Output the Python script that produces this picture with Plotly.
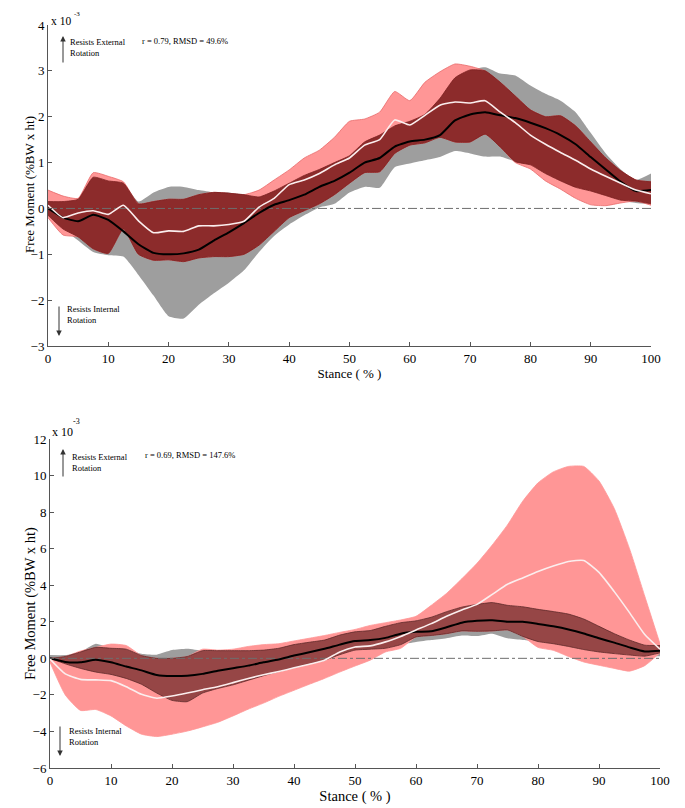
import numpy as np
import plotly.graph_objects as go

W, H = 685, 808
OFF = 8  # page margin of the browser body

stance = [i * 2.5 for i in range(41)]

# ---------------- Top panel (values x 10^-3) ----------------
top_black_mean = [0.0, -0.2, -0.28, -0.14, -0.25, -0.5, -0.78, -0.97, -1.0, -0.98, -0.9,
                  -0.7, -0.52, -0.32, -0.1, 0.08, 0.18, 0.3, 0.47, 0.6, 0.78,
                  1.0, 1.1, 1.35, 1.46, 1.5, 1.6, 1.92, 2.05, 2.1, 2.03,
                  1.97, 1.87, 1.75, 1.6, 1.4, 1.12, 0.85, 0.58, 0.38, 0.4]
top_gray_hi = [0.15, 0.15, 0.2, 0.68, 0.6, 0.55, 0.15, 0.35, 0.47, 0.47, 0.4,
               0.35, 0.35, 0.3, 0.25, 0.38, 0.55, 0.72, 0.85, 1.0, 1.15,
               1.45, 1.6, 1.8, 1.9, 2.05, 2.4, 2.85, 3.02, 3.08, 2.94,
               2.9, 2.68, 2.5, 2.35, 2.1, 1.65, 1.2, 0.85, 0.62, 0.76]
top_gray_lo = [-0.15, -0.45, -0.7, -0.95, -1.02, -1.05, -1.45, -1.9, -2.35, -2.4, -2.1,
               -1.85, -1.62, -1.35, -0.95, -0.6, -0.35, -0.15, 0.02, 0.1, 0.35,
               0.47, 0.45, 0.9, 0.98, 1.05, 1.12, 1.25, 1.2, 1.13, 1.13,
               1.02, 0.95, 0.76, 0.6, 0.46, 0.38, 0.28, 0.18, 0.12, 0.1]
top_white_mean = [0.07, -0.2, -0.1, -0.05, -0.13, 0.07, -0.27, -0.53, -0.49, -0.5, -0.38,
                  -0.38, -0.35, -0.28, 0.03, 0.22, 0.52, 0.62, 0.76, 0.95, 1.1,
                  1.38, 1.5, 1.93, 1.82, 2.03, 2.25, 2.32, 2.3, 2.35, 2.1,
                  1.87, 1.6, 1.4, 1.22, 1.05, 0.86, 0.7, 0.55, 0.4, 0.32]
top_red_hi = [0.4, 0.27, 0.22, 0.78, 0.7, 0.58, 0.1, 0.15, 0.2, 0.2, 0.3,
              0.35, 0.33, 0.3, 0.4, 0.62, 0.84, 1.1, 1.27, 1.55, 1.9,
              1.95, 2.1, 2.55, 2.35, 2.75, 2.98, 3.15, 3.1, 3.0, 2.75,
              2.45, 2.15, 2.0, 2.02, 1.8, 1.45, 1.1, 0.82, 0.62, 0.58]
top_red_lo = [-0.2, -0.58, -0.62, -0.88, -0.98, -0.45, -1.0, -1.13, -1.12, -1.16, -1.08,
              -1.05, -1.05, -1.0, -0.8, -0.5, -0.2, -0.05, 0.1, 0.3, 0.55,
              0.78, 0.8, 1.2, 1.38, 1.43, 1.55, 1.45, 1.45, 1.62, 1.34,
              1.0, 0.86, 0.6, 0.42, 0.22, 0.08, 0.06, 0.12, 0.16, 0.07]

# ---------------- Bottom panel (values x 10^-3) ----------------
bot_black_mean = [0.0, -0.2, -0.22, -0.08, -0.22, -0.45, -0.66, -0.91, -0.97, -0.95, -0.85,
                  -0.68, -0.54, -0.4, -0.22, -0.06, 0.15, 0.33, 0.52, 0.75, 0.95,
                  1.0, 1.12, 1.35, 1.45, 1.48, 1.7, 1.95, 2.05, 2.08, 2.0,
                  2.0, 1.88, 1.75, 1.58, 1.36, 1.1, 0.86, 0.6, 0.38, 0.42]
bot_gray_hi = [0.18, 0.18, 0.35, 0.8, 0.55, 0.5, 0.25, 0.2, 0.45, 0.52, 0.42,
               0.42, 0.42, 0.42, 0.45, 0.55, 0.75, 0.88, 1.0, 1.27, 1.45,
               1.52, 1.75, 1.95, 2.05, 2.25, 2.55, 2.8, 2.95, 3.05, 2.9,
               2.82, 2.68, 2.56, 2.42, 2.15, 1.75, 1.35, 1.0, 0.72, 0.7]
bot_gray_lo = [0.0, -0.3, -0.55, -0.75, -0.88, -1.1, -1.42, -1.9, -2.3, -2.37, -1.9,
               -1.65, -1.45, -1.2, -0.95, -0.72, -0.5, -0.3, -0.1, 0.2, 0.45,
               0.5, 0.55, 0.75, 0.9, 1.0, 1.1, 1.25, 1.22, 1.35, 1.1,
               1.0, 0.92, 0.8, 0.65, 0.48, 0.35, 0.26, 0.18, 0.12, 0.12]
bot_white_mean = [-0.04, -0.85, -1.15, -1.18, -1.22, -1.55, -1.97, -2.18, -2.06, -1.9, -1.72,
                  -1.55, -1.33, -1.1, -0.9, -0.72, -0.52, -0.32, -0.1, 0.35, 0.62,
                  0.68, 0.9, 1.2, 1.55, 1.9, 2.3, 2.65, 2.95, 3.5, 4.05,
                  4.4, 4.75, 5.05, 5.3, 5.35, 4.7, 3.65, 2.5, 1.3, 0.5]
bot_red_hi = [0.0, 0.1, 0.4, 0.6, 0.78, 0.7, 0.15, 0.0, 0.0, 0.1, 0.5,
              0.45, 0.5, 0.65, 0.75, 0.8, 0.95, 1.1, 1.25, 1.42, 1.58,
              1.8, 1.95, 2.1, 2.3, 2.9, 3.55, 4.35, 5.2, 6.2, 7.3,
              8.6, 9.6, 10.2, 10.5, 10.5, 9.7, 8.2, 6.0, 3.4, 0.8]
bot_red_lo = [-0.22, -2.0, -2.85, -2.8, -3.15, -3.7, -4.15, -4.28, -4.15, -3.98, -3.75,
              -3.5, -3.15, -2.78, -2.45, -2.08, -1.75, -1.42, -1.1, -0.75, -0.42,
              -0.1, 0.35, 0.55, 1.17, 1.25, 1.35, 1.5, 1.48, 1.5, 1.55,
              1.2, 0.6, 0.44, 0.1, -0.2, -0.38, -0.55, -0.7, -0.4, 0.3]

top_label = "r = 0.79, RMSD = 49.6%"
bot_label = "r = 0.69, RMSD = 147.6%"
y_title = "Free Moment (%BW x ht)"
x_title = "Stance ( % )"
x_ticks = list(range(0, 101, 10))
top_y_ticks = list(range(-3, 5))
bot_y_ticks = list(range(-6, 13, 2))

GRAY = "#9e9e9e"
LRED = "#ff9696"
FONT = "Liberation Serif"

fig = go.Figure()


def band(lo, hi, color, xa, ya, edge=None, ew=0.0):
    fig.add_trace(go.Scatter(x=stance, y=lo, mode="lines", line=dict(width=ew, color=edge or color, shape="spline", smoothing=0.5),
                             xaxis=xa, yaxis=ya, showlegend=False, hoverinfo="skip"))
    fig.add_trace(go.Scatter(x=stance, y=hi, mode="lines", fill="tonexty", fillcolor=color,
                             line=dict(width=ew, color=edge or color, shape="spline", smoothing=0.5),
                             xaxis=xa, yaxis=ya, showlegend=False, hoverinfo="skip"))


def panel(bm, glo, ghi, wm, rlo, rhi, xa, ya, ovcol, ovedge, redge):
    glo_a, ghi_a, rlo_a, rhi_a = map(np.array, (glo, ghi, rlo, rhi))
    ov_lo = np.maximum(glo_a, rlo_a)
    ov_hi = np.maximum(ov_lo, np.minimum(ghi_a, rhi_a))
    band(glo, ghi, GRAY, xa, ya)
    band(rlo, rhi, LRED, xa, ya, edge=redge, ew=0.8)
    band(list(ov_lo), list(ov_hi), ovcol, xa, ya, edge=ovedge, ew=0.8)
    fig.add_trace(go.Scatter(x=[0, 100], y=[0, 0], mode="lines",
                             line=dict(color="#6e6e6e", width=1, dash="dashdot"),
                             xaxis=xa, yaxis=ya, showlegend=False, hoverinfo="skip"))
    fig.add_trace(go.Scatter(x=stance, y=bm, mode="lines", line=dict(color="black", width=2, shape="spline", smoothing=0.5),
                             xaxis=xa, yaxis=ya, showlegend=False))
    fig.add_trace(go.Scatter(x=stance, y=wm, mode="lines", line=dict(color="#fbeeee", width=1.6, shape="spline", smoothing=0.5),
                             xaxis=xa, yaxis=ya, showlegend=False))


panel(top_black_mean, top_gray_lo, top_gray_hi, top_white_mean, top_red_lo, top_red_hi,
      "x", "y", "#8c2b2b", "#7a2020", "#e86a6a")
panel(bot_black_mean, bot_gray_lo, bot_gray_hi, bot_white_mean, bot_red_lo, bot_red_hi,
      "x2", "y2", "#964646", "#5e2a2a", LRED)


def px(x):
    return (x - OFF) / W


def py(y):
    return 1 - (y - OFF) / H


axis_common = dict(showgrid=False, zeroline=False, showline=True, linecolor="#555555", linewidth=1,
                   ticks="inside", ticklen=4, tickcolor="#555555", mirror=False,
                   tickfont=dict(family=FONT, size=13, color="black"), automargin=False)

fig.update_layout(
    width=W, height=H, margin=dict(l=0, r=0, t=0, b=0),
    paper_bgcolor="white", plot_bgcolor="white",
    font=dict(family=FONT, color="black"),
    xaxis=dict(domain=[px(48), px(651)], range=[0, 100], tickvals=x_ticks, anchor="y",
               title=dict(text=x_title, font=dict(family=FONT, size=13), standoff=0), **axis_common),
    yaxis=dict(domain=[py(346), py(25)], range=[-3, 4], tickvals=top_y_ticks, anchor="x", **axis_common),
    xaxis2=dict(domain=[px(50), px(660)], range=[0, 100], tickvals=x_ticks, anchor="y2",
                title=dict(text=x_title, font=dict(family=FONT, size=14.5), standoff=0), **axis_common),
    yaxis2=dict(domain=[py(768), py(439)], range=[-6, 12], tickvals=bot_y_ticks, anchor="x2", **axis_common),
)


def text(x, y, s, size=8.5, xanchor="left", yanchor="middle", angle=0):
    fig.add_annotation(x=px(x), y=py(y), xref="paper", yref="paper", text=s, showarrow=False,
                       xanchor=xanchor, yanchor=yanchor, align="left", textangle=angle,
                       font=dict(family=FONT, size=size, color="black"))


def arrow(x, y_head, y_tail):
    fig.add_annotation(x=px(x), y=py(y_head), xref="paper", yref="paper", text="", showarrow=True,
                       ax=0, ay=y_tail - y_head, arrowhead=2, arrowsize=1.1, arrowwidth=1,
                       arrowcolor="#333333")


# y-axis titles
text(30, 185, y_title, size=13, xanchor="center", yanchor="middle", angle=-90)
text(30, 604, y_title, size=14.5, xanchor="center", yanchor="middle", angle=-90)

# top panel annotations
text(49, 21, "x 10", size=11.5)
text(72, 8, "-3", size=7, yanchor="top")
arrow(63, 36, 64)
text(68, 35, "Resists External<br>Rotation", yanchor="top")
text(140, 41, top_label)
arrow(59, 336, 305)
text(65, 302, "Resists Internal<br>Rotation", yanchor="top")

# bottom panel annotations
text(50, 432, "x 10", size=12)
text(71, 421, "-3", size=8)
arrow(63, 449, 478)
text(70, 450, "Resists External<br>Rotation", yanchor="top")
text(143, 455, bot_label)
arrow(60, 756, 725)
text(67, 724, "Resists Internal<br>Rotation", yanchor="top")

fig.write_html("out.html")
